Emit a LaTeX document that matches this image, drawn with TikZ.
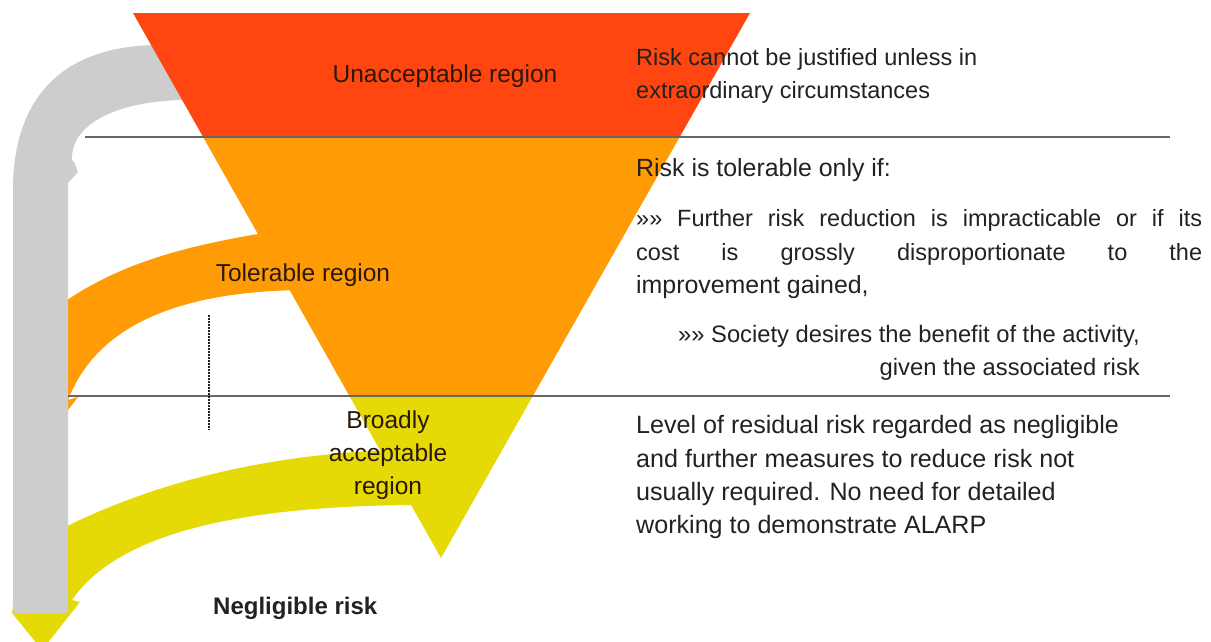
\documentclass[tikz,border=0pt]{standalone}
\usepackage{fontspec}
\setmainfont{Liberation Sans}
\definecolor{cred}{HTML}{FF4610}
\definecolor{corange}{HTML}{FF9B05}
\definecolor{cyellow}{HTML}{E5DA05}
\definecolor{cgray}{HTML}{CDCDCD}
\definecolor{ctext}{HTML}{222222}
\definecolor{clabel}{HTML}{2A1808}
\definecolor{cline}{HTML}{666666}
\begin{document}
\begin{tikzpicture}[x=1pt,y=-1pt,
  rtext/.style={inner sep=0pt,anchor=base west,text=ctext,font=\fontsize{23.5}{30}\selectfont},
  rbig/.style={rtext,font=\fontsize{24.9}{30}\selectfont},
  ltext/.style={inner sep=0pt,anchor=base,text=clabel,font=\fontsize{24.5}{30}\selectfont},
  sepline/.style={draw=cline,line width=2pt}]
\useasboundingbox[fill=white] (0,0) rectangle (1211,641);
% yellow band with arrowhead
\fill[cyellow] (40,540) .. controls (150,480) and (270,455) .. (390,450) -- (425,505)
  .. controls (250,505) and (120,530) .. (72,600) -- (80,602) -- (42,650) -- (12,613) -- (20,560) -- cycle;
% orange band
\fill[corange] (40,320) -- (60,305) .. controls (120,262) and (190,245) .. (270,232) -- (300,290)
  .. controls (170,292) and (95,330) .. (68,400) -- (78,397) -- (68,410) -- (40,410) -- cycle;
% gray band
\fill[cgray] (160,45) .. controls (65,45) and (13,95) .. (13,190) -- (13,613) -- (68,613) -- (68,183)
  -- (78,172) -- (74,162) -- (72,160) .. controls (70,128) and (110,101) .. (185,100) -- cycle;
% triangle
\fill[cred] (133,13) -- (750,13) -- (679.7,137) -- (203.1,137) -- cycle;
\fill[corange] (203.1,137) -- (679.7,137) -- (533.4,395) -- (348.9,395) -- cycle;
\fill[cyellow] (348.9,395) -- (533.4,395) -- (441,558) -- cycle;
% separators
\coordinate (l1a) at (85,137); \coordinate (l1b) at (1170,137);
\coordinate (l2a) at (68,396); \coordinate (l2b) at (1170,396);
\draw[sepline] (l1a) -- (l1b);
\draw[sepline] (l2a) -- (l2b);
\coordinate (d1) at (209,315); \coordinate (d2) at (209,430);
\draw[draw=ctext,line width=2pt,densely dotted] (d1) -- (d2);
% region labels
\node[ltext] (unacc) at (445,82) {Unacceptable region};
\node[ltext] (toler) at (303,281) {Tolerable region};
\node[ltext] (broad1) at (388,428) {Broadly};
\node[ltext] (broad2) at (388,461) {acceptable};
\node[ltext] (broad3) at (388,494) {region};
\node[ltext,font=\fontsize{24}{30}\selectfont\bfseries,anchor=base west,text=ctext] (negl) at (213,614) {Negligible risk};
% right texts
\node[rtext] (r1) at (636,65) {Risk cannot be justified unless in};
\node[rtext] (r2) at (636,98) {extraordinary circumstances};
\node[rbig] (t1) at (636,176) {Risk is tolerable only if:};
\node[rtext] (t2) at (636,226) {\makebox[566pt][s]{»» Further risk reduction is impracticable or if its}};
\node[rtext] (t3) at (636,260) {\makebox[566pt][s]{cost is grossly disproportionate to the}};
\node[rbig] (t4) at (636,293) {improvement gained,};
\node[rtext,anchor=base east,font=\fontsize{23.75}{30}\selectfont] (t5) at (1140,342) {»» Society desires the benefit of the activity,};
\node[rtext,anchor=base east,font=\fontsize{23.75}{30}\selectfont] (t6) at (1140,375) {given the associated risk};
\node[rbig,font=\fontsize{25.1}{30}\selectfont] (b1) at (636,433) {Level of residual risk regarded as negligible};
\node[rbig,font=\fontsize{25.1}{30}\selectfont] (b2) at (636,467) {and further measures to reduce risk not};
\node[rbig,font=\fontsize{25.1}{30}\selectfont] (b3) at (636,500) {usually required. No need for detailed};
\node[rbig,font=\fontsize{25.1}{30}\selectfont] (b4) at (636,533) {working to demonstrate ALARP};
\end{tikzpicture}
\end{document}
